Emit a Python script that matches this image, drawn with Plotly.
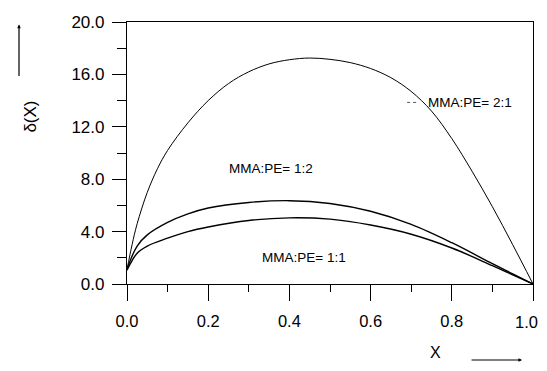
import plotly.graph_objects as go

# ---- data ----
x_21 = [0, 0.0125, 0.025, 0.05, 0.075, 0.1, 0.15, 0.2, 0.25, 0.3, 0.35, 0.4, 0.45,
        0.5, 0.55, 0.6, 0.65, 0.7, 0.75, 0.8, 0.85, 0.9, 0.95, 1.0]
y_21 = [1.1, 3.0, 4.6, 7.0, 8.8, 10.2, 12.3, 14.0, 15.3, 16.2, 16.8, 17.12, 17.25,
        17.15, 16.9, 16.45, 15.75, 14.7, 13.2, 11.1, 8.6, 5.9, 3.0, 0.0]

x_low = [0, 0.025, 0.05, 0.1, 0.15, 0.2, 0.3, 0.4, 0.5, 0.6, 0.7, 0.8, 0.9, 0.95, 1.0]
y_12 = [1.15, 2.9, 3.75, 4.7, 5.35, 5.8, 6.22, 6.36, 6.15, 5.55, 4.55, 3.15, 1.55, 0.78, 0.0]
y_11 = [1.05, 2.35, 2.9, 3.5, 4.0, 4.35, 4.85, 5.05, 4.95, 4.5, 3.8, 2.75, 1.4, 0.7, 0.0]

labels = ["MMA:PE= 2:1", "MMA:PE= 1:2", "MMA:PE= 1:1"]
label_x = [0.845, 0.355, 0.436]
label_y = [13.86, 8.85, 2.0]

x_ticks = [0.0, 0.2, 0.4, 0.6, 0.8, 1.0]
x_ticktext = ["0.0", "0.2", "0.4", "0.6", "0.8", ""]   # last one drawn as an annotation
last_x_label = "1.0"
y_ticks = [0.0, 4.0, 8.0, 12.0, 16.0, 20.0]

FONT = "Liberation Sans, Arial, Helvetica, sans-serif"

fig = go.Figure()
fig.add_trace(go.Scatter(x=x_21, y=y_21, mode="lines",
                         line=dict(color="black", width=1, shape="spline", smoothing=1),
                         showlegend=False, hoverinfo="skip"))
fig.add_trace(go.Scatter(x=x_low, y=y_12, mode="lines",
                         line=dict(color="black", width=1.4, shape="spline", smoothing=1),
                         showlegend=False, hoverinfo="skip"))
fig.add_trace(go.Scatter(x=x_low, y=y_11, mode="lines",
                         line=dict(color="black", width=1.4, shape="spline", smoothing=1),
                         showlegend=False, hoverinfo="skip"))

for t, lx, ly in zip(labels, label_x, label_y):
    fig.add_annotation(x=lx, y=ly, xref="x", yref="y", text=t, showarrow=False,
                       font=dict(family=FONT, size=13.5, color="black"))

# small dotted leader before the 2:1 label
fig.add_shape(type="line", xref="x", yref="y", x0=0.69, x1=0.715, y0=13.86, y1=13.86,
              line=dict(color="#555", width=1, dash="dot"))

# last x tick label, kept inside the visible page
fig.add_annotation(x=x_ticks[-1], xref="x", y=-0.145, yref="paper", text=last_x_label,
                   xanchor="right", yanchor="middle", xshift=7, showarrow=False,
                   font=dict(family=FONT, size=16.5, color="black"))

# axis titles with arrows
fig.add_annotation(xref="paper", yref="paper", x=-0.266, y=0.637, text="δ(X)",
                   textangle=-90, showarrow=False,
                   font=dict(family=FONT, size=17, color="black"))
fig.add_annotation(xref="paper", yref="paper", x=-0.266, y=0.99, text="",
                   showarrow=True, ax=0, ay=53, arrowhead=2, arrowsize=0.6,
                   arrowwidth=1.2, arrowcolor="black")
fig.add_annotation(xref="paper", yref="paper", x=0.778, y=-0.302, yanchor="bottom",
                   text="X", showarrow=False,
                   font=dict(family=FONT, size=16, color="black"))
fig.add_annotation(xref="paper", yref="paper", x=0.973, y=-0.29, text="",
                   showarrow=True, ax=-52, ay=0, arrowhead=2, arrowsize=0.6,
                   arrowwidth=1.2, arrowcolor="black")

fig.update_xaxes(range=[0, 1], tickvals=x_ticks, ticktext=x_ticktext, automargin=False,
                 ticks="outside", ticklen=16, tickwidth=1.2, tickcolor="black",
                 showline=True, linecolor="black", linewidth=1.2, mirror=True,
                 showgrid=False, zeroline=False, ticklabelstandoff=6,
                 tickfont=dict(family=FONT, size=16.5, color="black"),
                 minor=dict(dtick=0.1, ticks="outside", ticklen=7, tickwidth=1,
                            tickcolor="black", showgrid=False))
fig.update_yaxes(range=[0, 20], tickvals=y_ticks, tickformat=".1f", automargin=False,
                 ticks="outside", ticklen=14, tickwidth=1.2, tickcolor="black",
                 showline=True, linecolor="black", linewidth=1.2, mirror=True,
                 showgrid=False, zeroline=False, ticklabelstandoff=4,
                 tickfont=dict(family=FONT, size=17, color="black"),
                 minor=dict(dtick=2, ticks="outside", ticklen=9, tickwidth=1,
                            tickcolor="black", showgrid=False))

# the page body has an 8px margin, so the figure is sized/offset to compensate
fig.update_layout(width=539, height=355,
                  margin=dict(l=119, r=14, t=14, b=79),
                  paper_bgcolor="white", plot_bgcolor="white",
                  font=dict(family=FONT, color="black"))

fig.write_html("out.html")
